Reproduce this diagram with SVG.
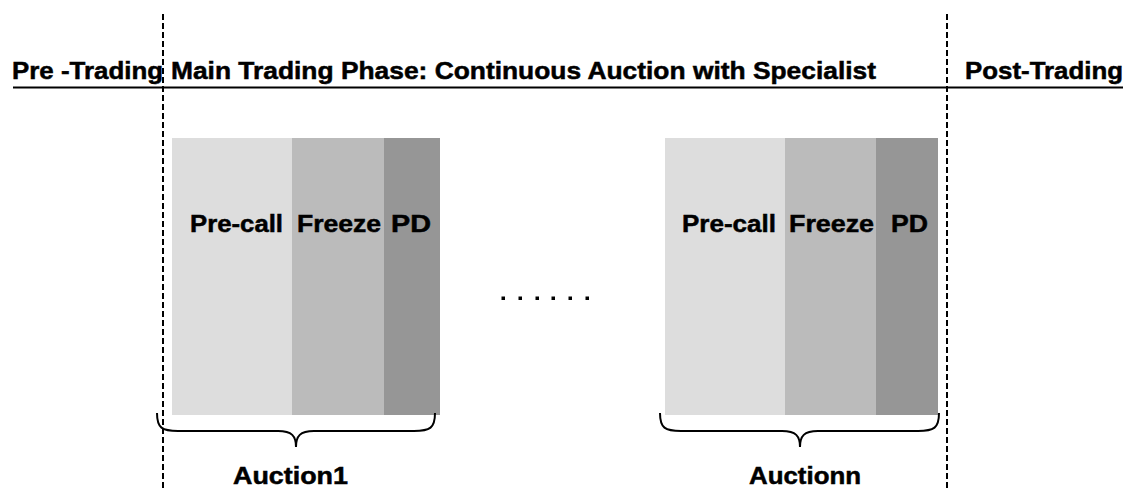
<svg xmlns="http://www.w3.org/2000/svg" width="1129" height="490" viewBox="0 0 1129 490">
<style>
text{font-family:"Liberation Sans",Arial,sans-serif;font-weight:bold;font-size:24px;fill:#000;stroke:#000;stroke-width:0.5}
.dash{stroke:#000;stroke-width:2;stroke-dasharray:6 3;fill:none}
.brace{stroke:#000;stroke-width:2;fill:none}
.c1{fill:#DDDDDD}.c2{fill:#BBBBBB}.c3{fill:#969696}
</style>
<rect width="1129" height="490" fill="#fff"/>
<g id="header">
<line x1="13" y1="87.5" x2="1123" y2="87.5" stroke="#000" stroke-width="2"/>
<text x="12" y="79" textLength="151" lengthAdjust="spacingAndGlyphs">Pre -Trading</text>
<text x="171" y="79" textLength="705" lengthAdjust="spacingAndGlyphs">Main Trading Phase: Continuous Auction with Specialist</text>
<text x="965" y="79" textLength="158" lengthAdjust="spacingAndGlyphs">Post-Trading</text>
</g>
<g id="dividers">
<line class="dash" x1="163" y1="14" x2="163" y2="490"/>
<line class="dash" x1="947" y1="14" x2="947" y2="490"/>
</g>
<g id="auction1">
<rect class="c1" x="172" y="138" width="120" height="277"/>
<rect class="c2" x="292" y="138" width="92" height="277"/>
<rect class="c3" x="384" y="138" width="56" height="277"/>
<text x="190" y="232" textLength="93" lengthAdjust="spacingAndGlyphs">Pre-call</text>
<text x="297" y="232" textLength="84" lengthAdjust="spacingAndGlyphs">Freeze</text>
<text x="391" y="232" textLength="40" lengthAdjust="spacingAndGlyphs">PD</text>
<path class="brace" d="M157,413 C157,428 162,431 178,431 L278,431 C292,431 296,436 296,447 C296,436 300,431 314,431 L414,431 C430,431 435,428 435,413"/>
<text x="233" y="484" textLength="115" lengthAdjust="spacingAndGlyphs">Auction1</text>
</g>
<g id="auctionn">
<rect class="c1" x="665" y="138" width="120" height="277"/>
<rect class="c2" x="785" y="138" width="91" height="277"/>
<rect class="c3" x="876" y="138" width="62" height="277"/>
<text x="682" y="232" textLength="94" lengthAdjust="spacingAndGlyphs">Pre-call</text>
<text x="789" y="232" textLength="85" lengthAdjust="spacingAndGlyphs">Freeze</text>
<text x="891" y="232" textLength="37" lengthAdjust="spacingAndGlyphs">PD</text>
<path class="brace" d="M660,413 C660,428 665,431 681,431 L782,431 C796,431 800,436 800,447 C800,436 804,431 818,431 L918,431 C934,431 939,428 939,413"/>
<text x="749" y="484" textLength="112" lengthAdjust="spacingAndGlyphs">Auctionn</text>
</g>
<g id="ellipsis" fill="#000">
<rect x="501.5" y="296.5" width="3.5" height="3.5"/>
<rect x="518.5" y="296.5" width="3.5" height="3.5"/>
<rect x="535.5" y="296.5" width="3.5" height="3.5"/>
<rect x="551.5" y="296.5" width="3.5" height="3.5"/>
<rect x="568.5" y="296.5" width="3.5" height="3.5"/>
<rect x="585.5" y="296.5" width="3.5" height="3.5"/>
</g>
</svg>
